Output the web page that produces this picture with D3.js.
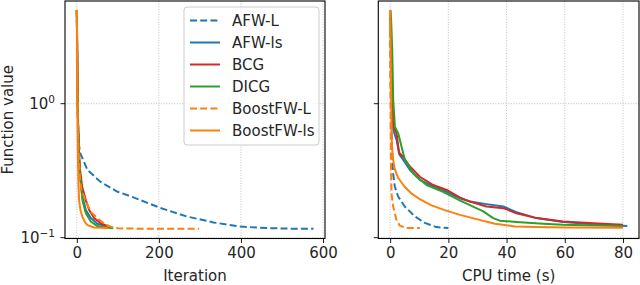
<!DOCTYPE html>
<html><head><meta charset="utf-8">
<script src="https://cdn.jsdelivr.net/npm/d3@7/dist/d3.min.js"></script>
<style>
html,body{margin:0;padding:0;background:#fff;}
svg{display:block;font-family:"DejaVu Sans",sans-serif;}
</style></head>
<body><svg id="c" width="640" height="285"></svg>
<script>
// ---------- data ----------
const seriesNames = ["AFW-L","AFW-ls","BCG","DICG","BoostFW-L","BoostFW-ls"];
const seriesColors = ["#1f77b4","#1f77b4","#d62728","#2ca02c","#ff7f0e","#ff7f0e"];
const seriesDashed = [true,false,false,false,true,false];

const xTicksIter = [0,200,400,600];
const xTicksTime = [0,20,40,60,80];
const yTicks = [1,0.1];
const yTickExp = ["0","\u22121"];

// Left panel: [iteration, function value]
const iterAFW_L = [[0,5],[1,2],[2,1],[3,0.7],[5,0.5],[8,0.43],[26,0.32],[57,0.262],[98,0.221],[138,0.2],[203,0.167],[268,0.144],[333,0.13],[398,0.121],[463,0.118],[520,0.1167],[577,0.1165]];
const iterAFW_ls = [[0,5],[1,2.5],[2,1.2],[3,0.7],[5,0.42],[8,0.29],[13.7,0.202],[22,0.161],[34,0.14],[50,0.127],[73,0.121]];
const iterBCG = [[0,5],[1,2.5],[2,1.2],[3,0.75],[5,0.45],[8,0.32],[13,0.24],[22,0.19],[30,0.161],[42,0.14],[58.5,0.128],[76,0.122]];
const iterDICG = [[0,5],[1,2.2],[2,1.0],[4,0.5],[6,0.35],[9.8,0.255],[13.7,0.19],[22,0.152],[34,0.132],[50,0.122],[70,0.119],[89,0.1175]];
const iterBoostFW_L = [[0,5],[1,2],[2,1],[3,0.6],[5,0.4],[8,0.27],[11,0.23],[22,0.185],[35,0.155],[50,0.14],[67,0.127],[85,0.12],[100,0.1175],[160,0.1165],[298,0.1165]];
const iterBoostFW_ls = [[0,5],[1,1.5],[2,0.6],[3,0.35],[4,0.25],[5.6,0.19],[9,0.16],[13.7,0.143],[20,0.13],[26,0.124],[42,0.119],[75,0.118]];

// Right panel: [CPU time (s), function value]
const timeAFW_L = [[0,5],[0.15,2],[0.35,0.9],[0.6,0.5],[0.85,0.35],[1.03,0.3],[1.6,0.241],[2.74,0.203],[5,0.171],[8.5,0.144],[11.9,0.129],[15.9,0.12],[20,0.118]];
const timeAFW_ls = [[0,5],[0.3,3],[0.6,1.6],[1.06,0.64],[2.2,0.537],[3.1,0.42],[4.5,0.38],[6.8,0.32],[10.2,0.27],[14.8,0.24],[19.4,0.22],[23.9,0.197],[27.4,0.186],[33.1,0.178],[38.9,0.171],[43.4,0.155],[50.3,0.14],[59.4,0.131],[70,0.126],[81.5,0.122]];
const timeBCG = [[0,5],[0.3,3],[0.6,1.6],[1.06,0.674],[2.2,0.6],[3.1,0.43],[4.5,0.4],[6.8,0.34],[10.2,0.285],[14.8,0.247],[19.4,0.227],[23.9,0.2],[27.4,0.186],[33.1,0.171],[38.9,0.166],[43.4,0.152],[50.3,0.14],[59.4,0.132],[70,0.128],[80,0.125]];
const timeDICG = [[0,5],[0.35,4.2],[0.72,2.5],[1.06,1.06],[1.65,0.67],[2.8,0.6],[3.9,0.48],[5.1,0.38],[8,0.3],[12.5,0.247],[18.2,0.22],[23.9,0.19],[27.4,0.175],[32,0.157],[35.4,0.14],[37.7,0.134],[43.4,0.131],[52.6,0.127],[59.4,0.125],[80,0.122]];
const timeBoostFW_L = [[0,5],[0.08,1.5],[0.2,0.6],[0.32,0.33],[0.46,0.215],[1.03,0.171],[2.16,0.136],[3.3,0.123],[5.6,0.118],[10.2,0.118]];
const timeBoostFW_ls = [[0,5],[0.2,2],[0.4,0.9],[0.6,0.5],[0.9,0.4],[1.5,0.33],[2.7,0.28],[5,0.24],[7.5,0.212],[10.5,0.192],[14,0.175],[19,0.16],[24,0.148],[30,0.137],[36,0.127],[43,0.121],[50,0.12],[60,0.119],[80,0.1185]];

const iterSeries = [iterAFW_L,iterAFW_ls,iterBCG,iterDICG,iterBoostFW_L,iterBoostFW_ls];
const timeSeries = [timeAFW_L,timeAFW_ls,timeBCG,timeDICG,timeBoostFW_L,timeBoostFW_ls];

// ---------- layout ----------
const svg = d3.select("#c");
const yTop = 1, yBottom = 238.5;
const y = d3.scaleLog().domain([0.0986, 5.84]).range([yBottom, yTop]);

const panels = [
  {x0:65, x1:325, domain:[-28.8,604.8], ticks:xTicksIter, label:"Iteration", data:iterSeries, ylabels:true},
  {x0:378.3, x1:639, domain:[-4.07,85.5], ticks:xTicksTime, label:"CPU time (s)", data:timeSeries, ylabels:false}
];

panels.forEach((p,pi)=>{
  const x = d3.scaleLinear().domain(p.domain).range([p.x0,p.x1]);
  const g = svg.append("g");
  // grid
  g.selectAll(".gx").data(p.ticks).enter().append("line")
    .attr("x1",d=>x(d)).attr("x2",d=>x(d)).attr("y1",yTop).attr("y2",yBottom)
    .attr("stroke","#b0b0b0").attr("stroke-width",0.8).attr("stroke-dasharray","1,1.6");
  g.selectAll(".gy").data(yTicks).enter().append("line")
    .attr("x1",p.x0).attr("x2",p.x1).attr("y1",d=>y(d)).attr("y2",d=>y(d))
    .attr("stroke","#b0b0b0").attr("stroke-width",0.8).attr("stroke-dasharray","1,1.6");
  // clip
  const cid = "clip"+pi;
  svg.append("clipPath").attr("id",cid).append("rect")
    .attr("x",p.x0).attr("y",yTop).attr("width",p.x1-p.x0).attr("height",yBottom-yTop);
  const line = d3.line().x(d=>x(d[0])).y(d=>y(d[1]));
  const lg = g.append("g").attr("clip-path",`url(#${cid})`);
  p.data.forEach((s,i)=>{
    lg.append("path").attr("d",line(s)).attr("fill","none")
      .attr("stroke",seriesColors[i]).attr("stroke-width",2)
      .attr("stroke-linejoin","round")
      .attr("stroke-dasharray",seriesDashed[i]?"7,3.2":null);
  });
  // x axis
  const xa = d3.axisBottom(x).tickValues(p.ticks).tickSize(4.5).tickPadding(4).tickFormat(d3.format("d"));
  const ax = g.append("g").attr("transform",`translate(0,${yBottom})`).call(xa);
  ax.select(".domain").remove();
  ax.selectAll("line").attr("stroke","#000").attr("stroke-width",0.9);
  ax.selectAll("text").attr("font-size","15px").attr("font-family","DejaVu Sans").attr("fill","#262626");
  // y ticks
  g.selectAll(".yt").data(yTicks).enter().append("line")
    .attr("x1",p.x0-4.5).attr("x2",p.x0).attr("y1",d=>y(d)).attr("y2",d=>y(d))
    .attr("stroke","#000").attr("stroke-width",0.9);
  if(p.ylabels){
    yTicks.forEach((t,k)=>{
      const tx = g.append("text").attr("x",p.x0-10).attr("y",y(t)+5.5)
        .attr("text-anchor","end").attr("font-size","15px").attr("fill","#262626");
      tx.append("tspan").text("10");
      tx.append("tspan").attr("dy",-6).attr("font-size","10.5px").text(yTickExp[k]);
    });
    svg.append("text").attr("transform",`translate(12.8,${(yTop+yBottom)/2}) rotate(-90)`)
      .attr("text-anchor","middle").attr("font-size","15px").attr("fill","#262626").text("Function value");
  }
  // frame
  g.append("rect").attr("x",p.x0).attr("y",yTop).attr("width",p.x1-p.x0).attr("height",yBottom-yTop)
    .attr("fill","none").attr("stroke","#000").attr("stroke-width",1.1);
  // x label
  svg.append("text").attr("x",(p.x0+p.x1)/2).attr("y",281).attr("text-anchor","middle")
    .attr("font-size","15px").attr("fill","#262626").text(p.label);
});

// legend
const leg = svg.append("g");
leg.append("rect").attr("x",184).attr("y",7).attr("width",135).attr("height",138).attr("rx",3)
  .attr("fill","#fff").attr("fill-opacity",0.8).attr("stroke","#cccccc").attr("stroke-width",1);
seriesNames.forEach((n,i)=>{
  const yy = 20.5 + 22*i;
  leg.append("line").attr("x1",190).attr("x2",220).attr("y1",yy).attr("y2",yy)
    .attr("stroke",seriesColors[i]).attr("stroke-width",2)
    .attr("stroke-dasharray",seriesDashed[i]?"7,3.2":null);
  leg.append("text").attr("x",232).attr("y",yy+5.3).attr("font-size","15px").attr("fill","#262626").text(n);
});
</script></body></html>
